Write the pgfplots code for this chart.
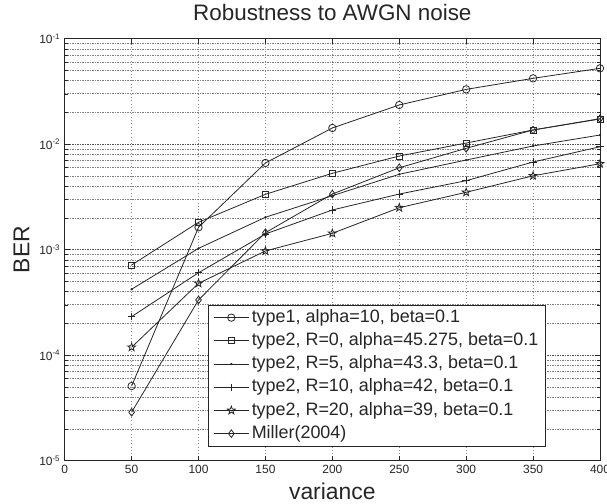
\documentclass[border=0pt]{standalone}
\usepackage{fontspec}
\setmainfont{Liberation Sans}
\usepackage{pgfplots}
\pgfplotsset{compat=1.18}

% outlined five-point star
\pgfdeclareplotmark{pentagram}{%
  \pgfpathmoveto{\pgfpointpolar{90}{\pgfplotmarksize}}%
  \pgfpathlineto{\pgfpointpolar{126}{0.4\pgfplotmarksize}}%
  \pgfpathlineto{\pgfpointpolar{162}{\pgfplotmarksize}}%
  \pgfpathlineto{\pgfpointpolar{198}{0.4\pgfplotmarksize}}%
  \pgfpathlineto{\pgfpointpolar{234}{\pgfplotmarksize}}%
  \pgfpathlineto{\pgfpointpolar{270}{0.4\pgfplotmarksize}}%
  \pgfpathlineto{\pgfpointpolar{306}{\pgfplotmarksize}}%
  \pgfpathlineto{\pgfpointpolar{342}{0.4\pgfplotmarksize}}%
  \pgfpathlineto{\pgfpointpolar{18}{\pgfplotmarksize}}%
  \pgfpathlineto{\pgfpointpolar{54}{0.4\pgfplotmarksize}}%
  \pgfpathclose
  \pgfusepathqstroke
}

\begin{document}
\begin{tikzpicture}
\useasboundingbox (-64.7bp,-43.3bp) rectangle (542.3bp,460.7bp);
\begin{axis}[
  at={(0,0)}, anchor=south west,
  scale only axis, width=535.3bp, height=422bp,
  ymode=log,
  xmin=0, xmax=400, ymin=1e-5, ymax=1e-1,
  xtick={0,50,...,400},
  ytick={1e-5,1e-4,1e-3,1e-2,1e-1},
  yticklabels={10\textsuperscript{-5},10\textsuperscript{-4},10\textsuperscript{-3},10\textsuperscript{-2},10\textsuperscript{-1}},
  tick label style={font=\fontsize{12}{13}\selectfont, black!85},
  xticklabel style={/pgf/number format/assume math mode=true, yshift=-1bp},
  yticklabel style={xshift=-1bp},
  tick align=inside,
  major tick length=5bp, minor tick length=3bp,
  tick style={black!85, line width=0.6bp},
  axis line style={black!85, line width=0.9bp},
  xmajorgrids, ymajorgrids, yminorgrids,
  major grid style={black!68, dash pattern=on 1.5bp off 1bp, line width=0.75bp},
  minor grid style={black!50, dash pattern=on 1.5bp off 1bp, line width=0.75bp},
  every axis x grid/.append style={black!45, dash pattern=on 0.8bp off 2.5bp, line width=0.6bp},
  title={Robustness to AWGN noise},
  title style={font=\fontsize{22.5}{25}\selectfont, black!85, at={([yshift=12.7bp]axis description cs:0.5,1)}, anchor=base},
  xlabel={variance},
  xlabel style={font=\fontsize{23}{26}\selectfont, black!85, at={([yshift=-38.6bp]axis description cs:0.5,0)}, anchor=base},
  ylabel={BER},
  ylabel style={font=\fontsize{23}{26}\selectfont, black!85, at={([xshift=-35.4bp]axis description cs:0,0.5)}, anchor=base, rotate=0},
  every axis plot/.append style={black!85, line width=0.8bp, mark options={solid, fill=none}},
  legend cell align=left,
  legend image code/.code={\draw[mark repeat=2,mark phase=2,#1] plot coordinates {(0bp,0bp)(17.5bp,0bp)(35bp,0bp)};},
  legend style={at={(axis description cs:0.2677,0.0332)}, anchor=south west,
    font=\fontsize{18}{20}\selectfont, text=black!85, draw=black!85, line width=0.9bp, fill=white,
    row sep=0pt, inner xsep=5bp, inner ysep=1bp,
    nodes={text height=13.8bp, text depth=4.6bp, inner ysep=2.4bp, inner xsep=2.5bp}},
]
\addplot[mark=o, mark size=3.7bp] coordinates {
  (50,5.1e-5) (100,1.63e-3) (150,6.64e-3) (200,0.01425)
  (250,0.02354) (300,0.0331) (350,0.0421) (400,0.0524)};
\addlegendentry{type1, alpha=10, beta=0.1}
\addplot[mark=square, mark size=3bp] coordinates {
  (50,7.16e-4) (100,1.82e-3) (150,3.35e-3) (200,5.30e-3)
  (250,7.73e-3) (300,0.01026) (350,0.01364) (400,0.01734)};
\addlegendentry{type2, R=0, alpha=45.275, beta=0.1}
\addplot[mark=*, mark size=0.7bp, mark options={fill=black!85}] coordinates {
  (50,4.22e-4) (100,1.03e-3) (150,2.03e-3) (200,3.25e-3)
  (250,5.19e-3) (300,7.08e-3) (350,9.62e-3) (400,0.01222)};
\addlegendentry{type2, R=5, alpha=43.3, beta=0.1}
\addplot[mark=+, mark size=3.7bp] coordinates {
  (50,2.32e-4) (100,6.05e-4) (150,1.41e-3) (200,2.38e-3)
  (250,3.37e-3) (300,4.51e-3) (350,6.78e-3) (400,9.46e-3)};
\addlegendentry{type2, R=10, alpha=42, beta=0.1}
\addplot[mark=pentagram, mark size=4.2bp] coordinates {
  (50,1.19e-4) (100,4.80e-4) (150,9.73e-4) (200,1.43e-3)
  (250,2.50e-3) (300,3.50e-3) (350,5.02e-3) (400,6.53e-3)};
\addlegendentry{type2, R=20, alpha=39, beta=0.1}
\addplot[mark=diamond, mark size=3.8bp] coordinates {
  (50,2.88e-5) (100,3.34e-4) (150,1.45e-3) (200,3.37e-3)
  (250,5.98e-3) (300,9.14e-3) (350,0.01364) (400,0.01746)};
\addlegendentry{Miller(2004)}
\end{axis}
\end{tikzpicture}
\end{document}
